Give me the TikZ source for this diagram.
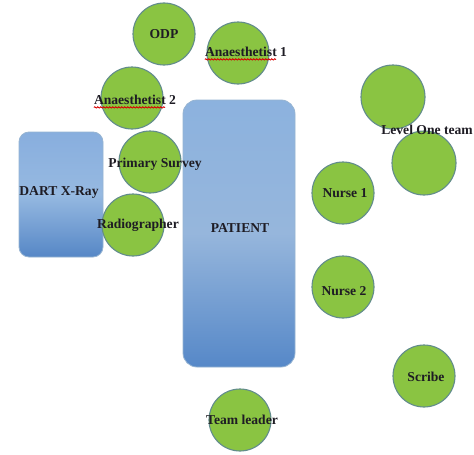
\documentclass[tikz,border=0pt]{standalone}
\usepackage{fontspec}
\setmainfont{Liberation Serif}
\usetikzlibrary{decorations.pathmorphing}
\definecolor{circfill}{RGB}{138,196,66}
\definecolor{circline}{RGB}{98,140,140}
\definecolor{boxline}{RGB}{150,180,210}
\definecolor{textdark}{RGB}{30,28,36}
\definecolor{btop}{RGB}{136,174,222}
\definecolor{bmid}{RGB}{150,185,225}
\definecolor{bbot}{RGB}{86,135,198}
\definecolor{ptop}{RGB}{140,178,222}
\definecolor{pmid}{RGB}{150,182,220}
\definecolor{pbot}{RGB}{86,136,200}
\begin{document}
\begin{tikzpicture}[x=1pt,y=-1pt,
  person/.style={circle,draw=circline,line width=1.1pt,fill=circfill,minimum size=62pt,inner sep=0pt},
  lbl/.style={font=\bfseries\fontsize{13.6}{15}\selectfont,text=textdark,inner sep=0pt},
  dartbox/.style={draw=boxline,line width=0.8pt,rounded corners=10pt,inner sep=0pt,
    top color=btop,bottom color=bbot,middle color=bmid},
  patbox/.style={draw=boxline,line width=0.8pt,rounded corners=14pt,inner sep=0pt,
    top color=ptop,bottom color=pbot,middle color=pmid},
  squig/.style={draw=red!85!black,decorate,decoration={snake,amplitude=0.7pt,segment length=3pt},line width=0.8pt}]
\useasboundingbox (0,0) rectangle (474,455);
\fill[white] (0,0) rectangle (474,455);
% boxes
\node[dartbox,minimum width=84pt,minimum height=125pt] (dart) at (61,194.5) {};
\node[patbox,minimum width=112pt,minimum height=267pt] (patient) at (239,233.5) {};
% circles
\node[person] (odp) at (164,34) {};
\node[person] (an1) at (238,53) {};
\node[person] (an2) at (132,98) {};
\node[person] (ps) at (150,162) {};
\node[person] (rad) at (133,225) {};
\node[person,minimum size=64pt] (lo1) at (393,97) {};
\node[person,minimum size=64pt] (lo2) at (424,163) {};
\node[person] (n1) at (343,193) {};
\node[person] (n2) at (343,287) {};
\node[person] (scribe) at (424,376) {};
\node[person] (tl) at (240,420) {};
% labels
\node[lbl] (odpt) at (164,34) {ODP};
\node[lbl] (an1t) at (246,52) {Anaesthetist 1};
\node[lbl] (an2t) at (135,100) {Anaesthetist 2};
\node[lbl] (pst) at (155,164) {Primary Survey};
\node[lbl] (radt) at (138,225) {Radiographer};
\node[lbl] (dartt) at (59,192) {DART X-Ray};
\node[lbl] (patt) at (240,228) {PATIENT};
\node[lbl] (lot) at (427,130) {Level One team};
\node[lbl] (n1t) at (345,193) {Nurse 1};
\node[lbl] (n2t) at (344,291) {Nurse 2};
\node[lbl] (scribet) at (426,377) {Scribe};
\node[lbl] (tlt) at (242,420) {Team leader};
% spell-check squiggles
\draw[squig] ([yshift=-2.8pt]an1t.base west) -- ([xshift=-11pt,yshift=-2.8pt]an1t.base east);
\draw[squig] ([yshift=-2.8pt]an2t.base west) -- ([xshift=-11pt,yshift=-2.8pt]an2t.base east);
\end{tikzpicture}
\end{document}
